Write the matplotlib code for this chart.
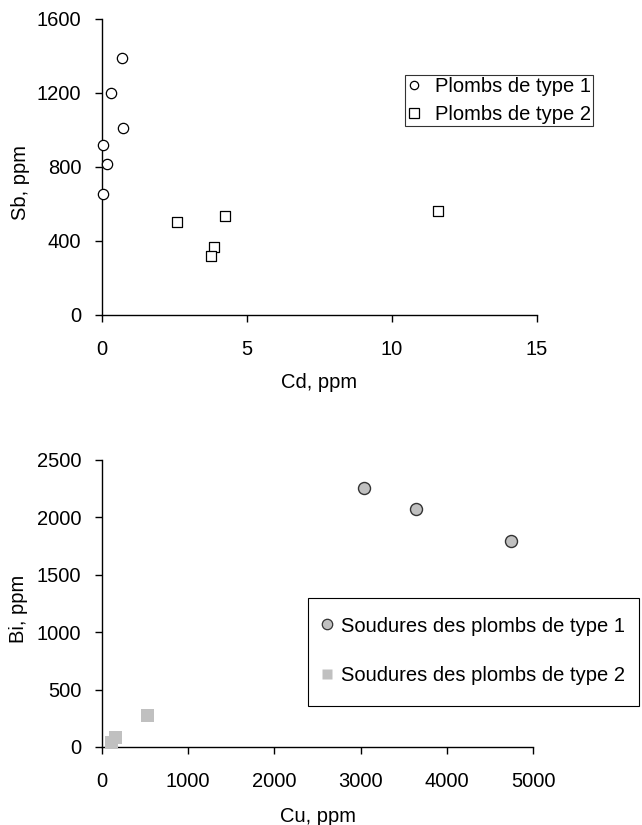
import matplotlib
matplotlib.use("Agg")
import matplotlib.pyplot as plt
from matplotlib.lines import Line2D
from matplotlib.patches import Rectangle

plt.rcParams['font.family'] = ['Liberation Sans', 'DejaVu Sans']

# Top chart data: Cd vs Sb
cd_type1 = [0.68, 0.31, 0.71, 0.05, 0.17, 0.05]
sb_type1 = [1390, 1200, 1010, 920, 815, 655]
cd_type2 = [2.6, 4.24, 3.87, 3.76, 11.6]
sb_type2 = [505, 535, 367, 317, 562]

# Bottom chart data: Cu vs Bi
cu_sold1 = [3045, 3645, 4745]
bi_sold1 = [2255, 2070, 1795]
cu_sold2 = [112, 160, 526]
bi_sold2 = [40, 80, 272]

FS = 14.5
W, H = 642, 825
fig = plt.figure(figsize=(W / 100, H / 100), dpi=100)

def add_ax(l, t, r, b):
    return fig.add_axes([l / W, 1 - b / H, (r - l) / W, (b - t) / H])

def style(ax):
    for s in ['top', 'right']:
        ax.spines[s].set_visible(False)
    for s in ['left', 'bottom']:
        ax.spines[s].set_linewidth(1.0)
        ax.spines[s].set_color('black')
    ax.tick_params(direction='out', length=5, width=1, labelsize=FS)
    ax.tick_params(axis='x', pad=13)
    ax.tick_params(axis='y', pad=10)

def fig_pt(x, y):
    return (x / W, 1 - y / H)

# Top
ax1 = add_ax(102, 19, 537, 315)
style(ax1)
ax1.scatter(cd_type1, sb_type1, s=55, marker='o', facecolors='white', edgecolors='black', linewidths=0.9, zorder=3, clip_on=False)
ax1.scatter(cd_type2, sb_type2, s=60, marker='s', facecolors='white', edgecolors='black', linewidths=0.9, zorder=3, clip_on=False)
ax1.set_xlim(0, 15)
ax1.set_ylim(0, 1600)
ax1.set_xticks([0, 5, 10, 15])
ax1.set_yticks([0, 400, 800, 1200, 1600])
ax1.set_xlabel('Cd, ppm', fontsize=FS, va='center')
ax1.set_ylabel('Sb, ppm', fontsize=FS, va='center', ha='center')
ax1.xaxis.set_label_coords(0.5, -(383 - 315) / 296)
ax1.yaxis.set_label_coords((20 - 102) / 435, (315 - 182) / 296)
h1 = [Line2D([], [], marker='o', ls='none', mfc='white', mec='black', ms=6, mew=0.9),
      Line2D([], [], marker='s', ls='none', mfc='white', mec='black', ms=6.5, mew=0.9)]
leg1 = ax1.legend(h1, ['Plombs de type 1', 'Plombs de type 2'], loc='upper left',
                  bbox_to_anchor=fig_pt(405, 75), bbox_transform=fig.transFigure,
                  fontsize=FS, frameon=True, fancybox=False, edgecolor='black',
                  borderpad=0.1, handletextpad=0.7, handlelength=0.7,
                  labelspacing=0.45, borderaxespad=0)
leg1.get_frame().set_linewidth(0.8)

# Bottom
ax2 = add_ax(102, 460, 533, 747)
style(ax2)
ax2.scatter(cu_sold1, bi_sold1, s=75, marker='o', facecolors='#c0c0c0', edgecolors='#333333', linewidths=1.0, zorder=3)
ax2.scatter(cu_sold2, bi_sold2, s=85, marker='s', facecolors='#c0c0c0', edgecolors='none', zorder=3, clip_on=False)
ax2.set_xlim(0, 5000)
ax2.set_ylim(0, 2500)
ax2.set_xticks([0, 1000, 2000, 3000, 4000, 5000])
ax2.set_yticks([0, 500, 1000, 1500, 2000, 2500])
ax2.set_xlabel('Cu, ppm', fontsize=FS, va='center')
ax2.set_ylabel('Bi, ppm', fontsize=FS, va='center', ha='center')
ax2.xaxis.set_label_coords(0.5, -(817 - 747) / 287)
ax2.yaxis.set_label_coords((18 - 102) / 431, (747 - 609) / 287)

# legend frame drawn separately
frame2 = Rectangle(fig_pt(308, 706), (639 - 308) / W, (706 - 598) / H,
                   transform=fig.transFigure, facecolor='white',
                   edgecolor='black', linewidth=0.8, zorder=4, clip_on=False)
ax2.add_artist(frame2)
h2 = [Line2D([], [], marker='o', ls='none', mfc='#c0c0c0', mec='#333333', ms=7.5, mew=0.9),
      Line2D([], [], marker='s', ls='none', mfc='#c0c0c0', mec='none', ms=7.5)]
leg2 = ax2.legend(h2, ['Soudures des plombs de type 1', 'Soudures des plombs de type 2'],
                  loc='upper left', bbox_to_anchor=fig_pt(319, 616.5),
                  bbox_transform=fig.transFigure,
                  fontsize=FS, frameon=False,
                  borderpad=0, handletextpad=0.3, handlelength=0.8, labelspacing=1.5,
                  borderaxespad=0)
leg2.set_zorder(6)

fig.savefig('out.png', dpi=100, facecolor='white')
